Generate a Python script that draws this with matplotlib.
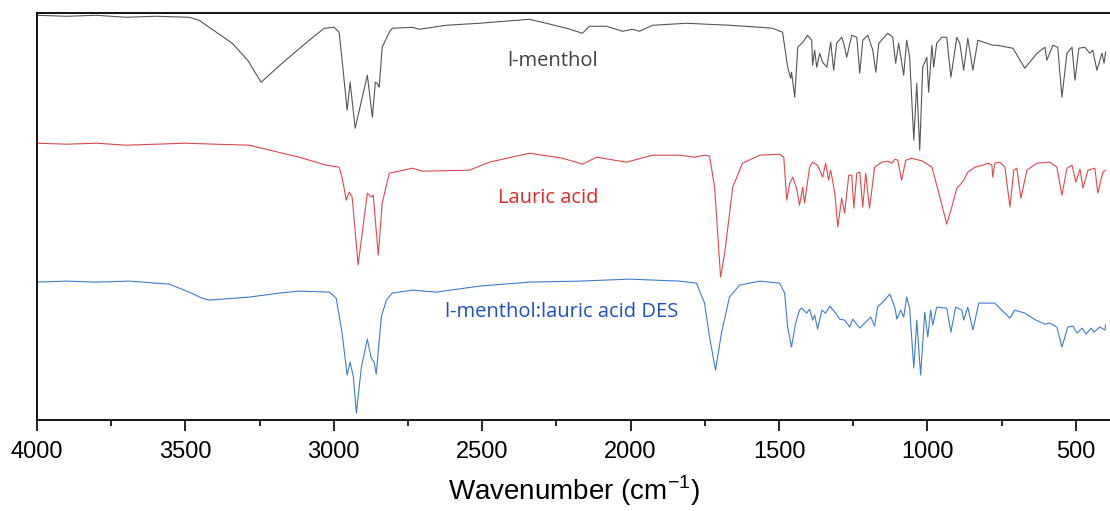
import numpy as np
import matplotlib
matplotlib.use('Agg')
import matplotlib.pyplot as plt

plt.rcParams['font.family'] = ['Liberation Sans', 'DejaVu Sans']

#################SPECTRA (wavenumber, stacked intensity)##########
menthol_wn = [4000, 3900, 3800, 3700, 3600, 3487, 3454, 3342, 3290, 3245, 3174, 3083, 3032, 2999, 2982,
              2972, 2955, 2945, 2928, 2887, 2870, 2860, 2854, 2847, 2837, 2813, 2803, 2735, 2712, 2621,
              2510, 2341, 2284, 2216, 2162, 2139, 2081, 2027, 1994, 1970, 1926, 1812, 1667, 1565, 1522,
              1488, 1471, 1461, 1458, 1447, 1437, 1420, 1404, 1390, 1387, 1380, 1373, 1363, 1353, 1339,
              1326, 1316, 1306, 1289, 1282, 1272, 1255, 1238, 1228, 1218, 1201, 1184, 1174, 1164, 1134,
              1117, 1107, 1097, 1080, 1070, 1060, 1046, 1036, 1026, 1016, 1002, 996, 985, 979, 969,
              952, 935, 921, 901, 891, 878, 864, 847, 830, 780, 766, 712, 672, 631,
              604, 598, 577, 561, 547, 530, 513, 503, 490, 470, 453, 443, 429, 412, 405, 400]
menthol_y = [405, 404, 405, 403, 404, 403, 400, 377, 360, 338, 357, 380, 392, 393, 388,
             360, 310, 338, 292, 345, 303, 338, 337, 333, 373, 388, 392, 393, 391, 395,
             397, 401, 397, 392, 387, 394, 394, 389, 391, 389, 395, 397, 395, 393, 392,
             388, 353, 342, 348, 323, 373, 378, 385, 380, 355, 370, 353, 367, 358, 353,
             378, 350, 377, 383, 377, 363, 385, 383, 347, 380, 385, 370, 348, 377, 387,
             383, 357, 377, 345, 380, 363, 280, 337, 270, 353, 363, 328, 375, 353, 377,
             383, 383, 343, 383, 377, 350, 382, 350, 380, 375, 375, 372, 352, 367,
             373, 360, 375, 373, 323, 367, 373, 340, 372, 373, 367, 370, 350, 367, 357, 368]

lauric_wn = [4000, 3900, 3800, 3700, 3600, 3500, 3400, 3285, 3117, 3025, 2982, 2972, 2958, 2948, 2938,
             2918, 2887, 2874, 2867, 2850, 2837, 2813, 2735, 2702, 2543, 2476, 2341, 2230, 2162, 2115,
             2014, 1926, 1835, 1785, 1751, 1734, 1717, 1697, 1683, 1656, 1623, 1565, 1498, 1484, 1474,
             1464, 1454, 1441, 1431, 1420, 1414, 1397, 1387, 1370, 1353, 1343, 1333, 1326, 1312, 1302,
             1289, 1279, 1265, 1255, 1248, 1238, 1228, 1218, 1208, 1195, 1178, 1154, 1134, 1120, 1110,
             1100, 1087, 1073, 1053, 1016, 985, 958, 935, 918, 901, 891, 878, 864, 840, 813,
             797, 783, 780, 773, 756, 739, 722, 709, 699, 685, 665, 631, 588, 564,
             547, 530, 513, 500, 486, 476, 459, 436, 426, 409, 400]
lauric_y = [277, 276, 277, 275, 276, 277, 276, 275, 263, 255, 253, 243, 220, 228, 223,
            155, 227, 223, 225, 165, 217, 247, 252, 249, 250, 258, 267, 262, 256, 263,
            258, 265, 265, 263, 265, 264, 233, 143, 167, 233, 257, 265, 266, 263, 220,
            237, 243, 232, 215, 233, 217, 253, 258, 255, 243, 257, 240, 250, 227, 193,
            222, 207, 245, 245, 212, 247, 248, 213, 247, 212, 253, 258, 259, 257, 261,
            260, 240, 260, 262, 259, 253, 223, 196, 213, 232, 235, 240, 248, 253, 255,
            257, 255, 243, 257, 258, 253, 213, 250, 252, 222, 250, 257, 258, 253,
            225, 252, 255, 238, 251, 232, 250, 252, 227, 248, 250]

des_wn = [4000, 3900, 3800, 3690, 3555, 3487, 3444, 3420, 3285, 3184, 3117, 3015, 2992, 2972, 2955,
          2945, 2934, 2924, 2907, 2887, 2874, 2864, 2857, 2840, 2823, 2803, 2735, 2655, 2510, 2341,
          2172, 2004, 1835, 1778, 1751, 1734, 1714, 1694, 1667, 1633, 1565, 1532, 1498, 1481, 1471,
          1458, 1444, 1431, 1424, 1407, 1397, 1387, 1380, 1370, 1356, 1343, 1329, 1309, 1296, 1279,
          1262, 1252, 1228, 1208, 1191, 1178, 1168, 1144, 1127, 1110, 1103, 1090, 1080, 1070, 1060,
          1046, 1036, 1023, 1009, 999, 989, 982, 969, 935, 921, 905, 884, 878, 864,
          847, 827, 773, 760, 722, 706, 672, 635, 604, 588, 564, 547, 527, 510,
          496, 479, 466, 449, 439, 419, 402, 400]
des_y = [138, 139, 138, 139, 136, 128, 122, 120, 123, 127, 129, 128, 122, 87, 45,
         58, 43, 7, 53, 81, 62, 58, 46, 103, 120, 127, 130, 128, 134, 138,
         139, 141, 139, 137, 117, 83, 50, 87, 123, 135, 139, 138, 137, 127, 93,
         73, 97, 110, 112, 107, 111, 100, 105, 91, 110, 107, 114, 107, 101, 100,
         93, 101, 92, 98, 103, 94, 113, 120, 126, 113, 101, 110, 103, 123, 112,
         52, 100, 45, 108, 83, 110, 95, 113, 112, 88, 113, 110, 100, 113,
         90, 117, 117, 113, 102, 110, 107, 100, 96, 97, 93, 73, 93, 94,
         87, 92, 86, 92, 88, 93, 90, 95]

labels = ['l-menthol', 'Lauric acid', 'l-menthol:lauric acid DES']
label_pos = [(2263, 359), (2277, 222), (2233, 108)]
line_colors = ['#555555', '#e0474c', '#3f7bd0']
text_colors = ['#404040', '#e02a2a', '#1f4fc4']

###################FIGURE######################
fig = plt.figure(figsize=(11.1, 5.11), dpi=100)
ax = fig.add_axes([0.0333, 0.178, 0.9667, 0.797])

ax.plot(menthol_wn, menthol_y, color=line_colors[0], lw=0.8)
ax.plot(lauric_wn, lauric_y, color=line_colors[1], lw=0.8)
ax.plot(des_wn, des_y, color=line_colors[2], lw=0.8)

for lab, (x, y), c in zip(labels, label_pos, text_colors):
    ax.text(x, y, lab, color=c, fontsize=14.5, ha='center', va='center',
            family=['Open Sans', 'DejaVu Sans'])

ax.set_xlim(4000, 385)
ax.set_ylim(0, 407.5)
ax.set_yticks([])
ax.set_xticks([4000, 3500, 3000, 2500, 2000, 1500, 1000, 500])
ax.set_xticks(np.arange(3750, 400, -500), minor=True)
ax.tick_params(axis='x', which='major', length=8, width=1.2, labelsize=17, pad=7)
ax.tick_params(axis='x', which='minor', length=4, width=1.2)
ax.spines['right'].set_visible(False)
for s in ['left', 'top', 'bottom']:
    ax.spines[s].set_linewidth(1.3)

ax.set_xlabel('Wavenumber (cm$^{\\mathregular{-1}}$)', fontsize=20, labelpad=8)

fig.savefig('out.png', dpi=100)
